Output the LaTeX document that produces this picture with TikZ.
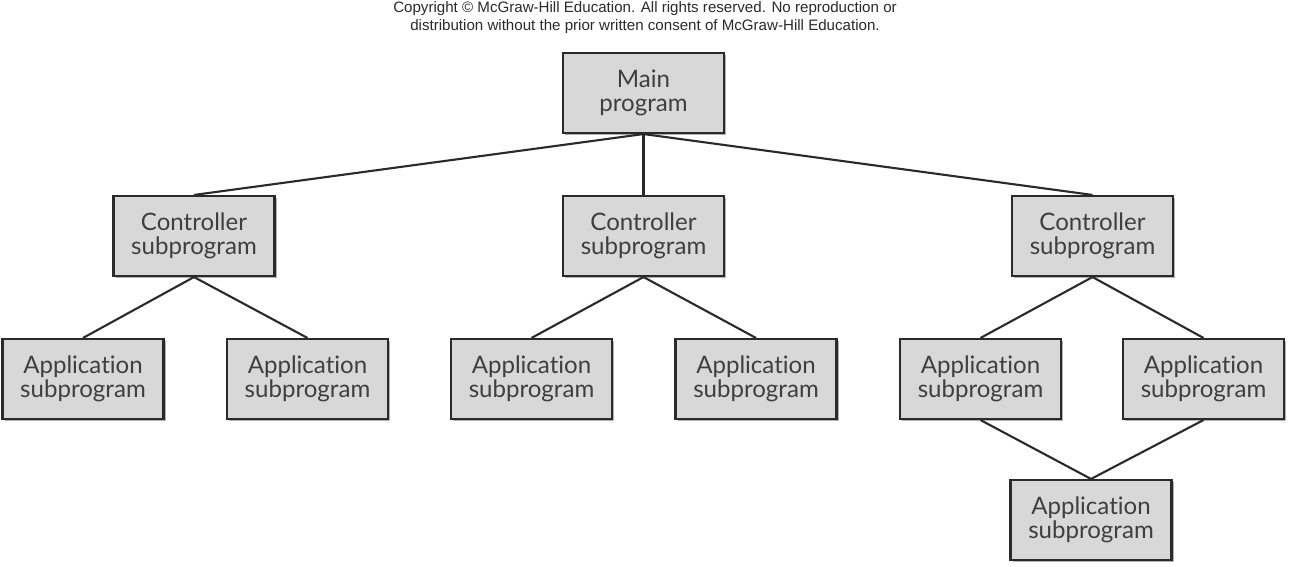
\documentclass[tikz,border=0pt]{standalone}
\usepackage{fontspec}
\setmainfont[Ligatures={NoCommon,NoDiscretionary,NoContextual}]{Lato}
\newfontfamily\noticefont{Liberation Sans}
\usepackage{xcolor}
\usetikzlibrary{shadows}
\definecolor{boxgray}{HTML}{D8D8D8}
\definecolor{inkgray}{HTML}{2A2A2A}

\begin{document}
\begin{tikzpicture}[x=0.02cm, y=-0.02cm,
    prog/.style={draw=inkgray, line width=1.2pt, fill=boxgray, text=inkgray!90,
        minimum width=3.22cm, minimum height=1.6cm, align=center, inner sep=0pt,
        font=\fontsize{13.7}{14}\selectfont,
        drop shadow={shadow xshift=1.4pt, shadow yshift=-1.4pt, fill=black!30, opacity=1}},
    link/.style={draw=inkgray, line width=1.2pt}]

    % Canvas
    \useasboundingbox (0,0) rectangle (1290,567);

    % Copyright notice
    \node[align=center, text=inkgray, font=\noticefont\fontsize{8.6}{10.2}\selectfont] (notice) at (645,17.5)
        {Copyright \textcopyright{} McGraw-Hill Education. All rights reserved. No reproduction or\\
         distribution without the prior written consent of McGraw-Hill Education.};

    % Top level
    \node[prog] (main) at (643.5,93) {Main\\program};

    % Controller level
    \node[prog] (ctrlA) at (194,236) {Controller\\subprogram};
    \node[prog] (ctrlB) at (643.5,236) {Controller\\subprogram};
    \node[prog] (ctrlC) at (1092.5,236) {Controller\\subprogram};

    % Application level
    \node[prog] (appA1) at (83,379) {Application\\subprogram};
    \node[prog] (appA2) at (307.5,379) {Application\\subprogram};
    \node[prog] (appB1) at (531.5,379) {Application\\subprogram};
    \node[prog] (appB2) at (756,379) {Application\\subprogram};
    \node[prog] (appC1) at (980.5,379) {Application\\subprogram};
    \node[prog] (appC2) at (1203.5,379) {Application\\subprogram};

    % Shared application below the right pair
    \node[prog] (appC3) at (1091,520) {Application\\subprogram};

    % Main program to controllers
    \draw[link] (main.south) -- (ctrlA.north);
    \draw[link] (main.south) -- (ctrlB.north);
    \draw[link] (main.south) -- (ctrlC.north);

    % Controllers to applications
    \draw[link] (ctrlA.south) -- (appA1.north);
    \draw[link] (ctrlA.south) -- (appA2.north);
    \draw[link] (ctrlB.south) -- (appB1.north);
    \draw[link] (ctrlB.south) -- (appB2.north);
    \draw[link] (ctrlC.south) -- (appC1.north);
    \draw[link] (ctrlC.south) -- (appC2.north);

    % Right pair joined below
    \draw[link] (appC1.south) -- (appC3.north);
    \draw[link] (appC2.south) -- (appC3.north);

\end{tikzpicture}
\end{document}
